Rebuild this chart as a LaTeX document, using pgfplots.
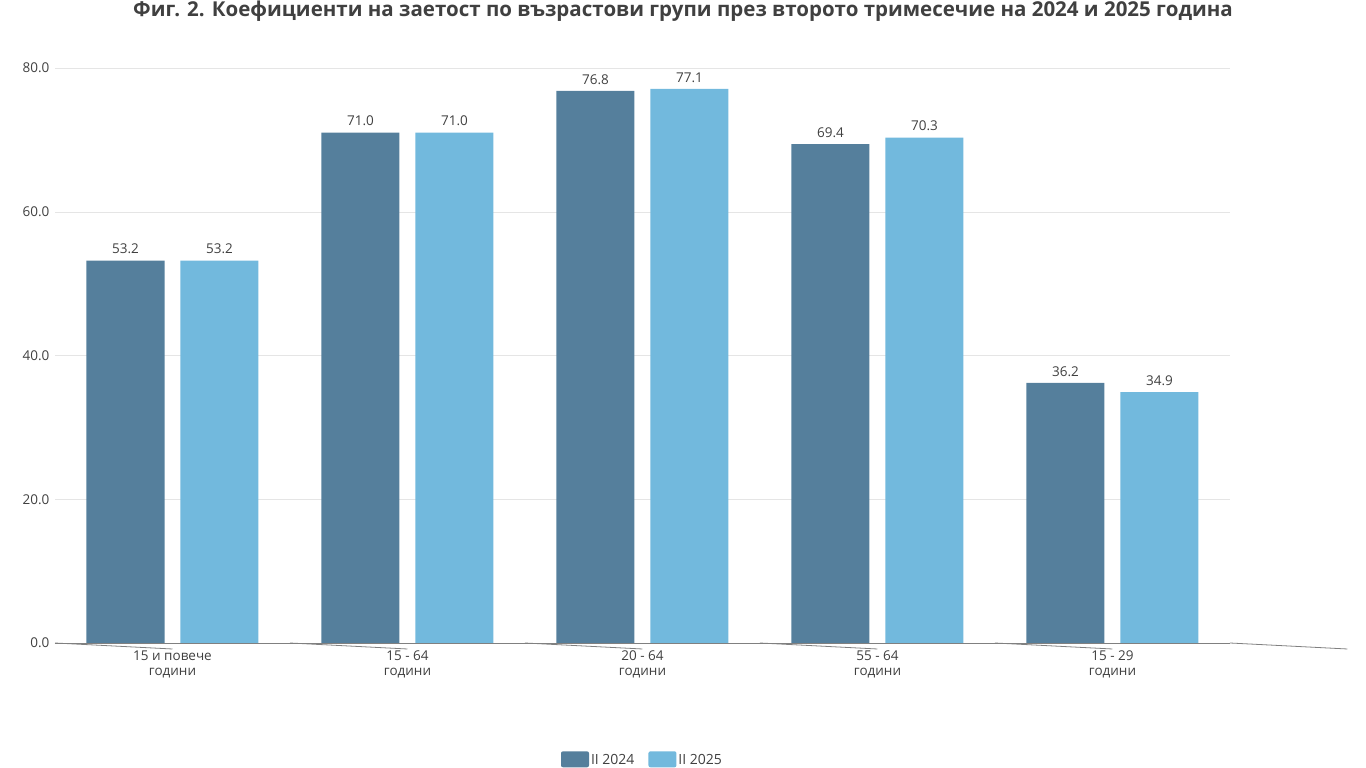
\documentclass[border=0pt]{standalone}
\usepackage{pgfplots}
\pgfplotsset{compat=1.18}
\usepackage{fontspec}
\setmainfont{Open Sans}
\definecolor{darkb}{HTML}{557F9C}
\definecolor{lightb}{HTML}{72B9DD}
\definecolor{txt}{HTML}{404040}
\begin{document}
\begin{tikzpicture}[x=1pt,y=1pt]
\path[use as bounding box] (0,0) rectangle (1366,768);
\node[font=\fontsize{20.5}{24}\selectfont\bfseries,text=txt] at (683,757) {Фиг. 2. Коефициенти на заетост по възрастови групи през второто тримесечие на 2024 и 2025 година};
\begin{axis}[at={(55pt,125pt)},anchor=south west,scale only axis,
 width=1175pt,height=575pt,
 xmin=-0.5,xmax=4.5,ymin=0,ymax=80,
 ybar,bar width=0.332,
 xtick={0,...,4},xticklabels={15 и повече\\години,15 - 64\\години,20 - 64\\години,55 - 64\\години,15 - 29\\години},
 xticklabel style={align=center,font=\fontsize{13.5}{15}\selectfont,text=txt},
 xtick style={draw=none},
 ytick={0,20,40,60,80},
 yticklabel style={font=\fontsize{13.5}{15}\selectfont,text=txt,/pgf/number format/.cd,fixed,fixed zerofill,precision=1,assume math mode=true},
 ymajorgrids,grid style={draw=gray!20},
 axis y line=left, y axis line style={draw=none}, ytick style={draw=none},
 axis x line*=bottom, x axis line style={draw=gray,thick,-},
 clip=false,
 nodes near coords,
 nodes near coords style={yshift=3pt,font=\fontsize{13.5}{15}\selectfont,text=txt,/pgf/number format/.cd,fixed,fixed zerofill,precision=1,assume math mode=true},
 legend style={at={(0.5,-0.203)},anchor=center,draw=none,legend columns=2,font=\fontsize{14}{16}\selectfont,text=txt,/tikz/every even column/.append style={column sep=12pt}},
 legend image code/.code={\fill[#1,rounded corners=2pt] (0pt,-7pt) rectangle (28pt,9pt);},
 ]
\addplot[fill=darkb,draw=none,bar shift=-0.2] coordinates {(0,53.2) (1,71.0) (2,76.8) (3,69.4) (4,36.2)};
\addplot[fill=lightb,draw=none,bar shift=0.2] coordinates {(0,53.2) (1,71.0) (2,77.1) (3,70.3) (4,34.9)};
\legend{II 2024,II 2025}
\pgfplotsinvokeforeach{-0.5,0.5,1.5,2.5,3.5,4.5}{\draw[gray,thick] (axis cs:#1,0) -- ++(0,-6pt);}
\end{axis}
\end{tikzpicture}
\end{document}
